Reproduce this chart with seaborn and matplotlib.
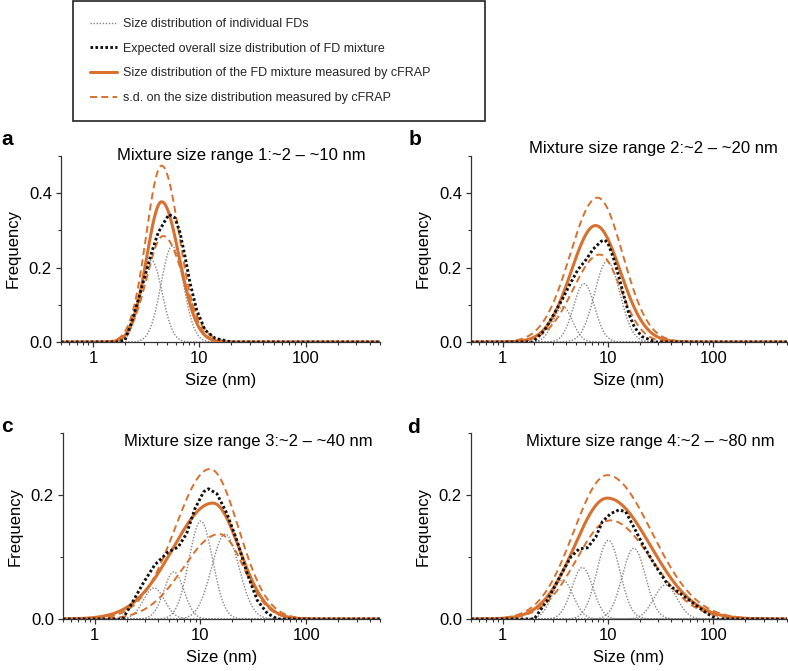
import numpy as np
import pandas as pd
import matplotlib
matplotlib.use("Agg")
import matplotlib.pyplot as plt
import seaborn as sns
from matplotlib import font_manager
from matplotlib.ticker import FixedLocator, LogLocator, MultipleLocator, NullFormatter, FuncFormatter

# ---------------- data ----------------
panel_letters = ["a", "b", "c", "d"]
panel_titles = ["Mixture size range 1:~2 \u2013 ~10 nm",
                "Mixture size range 2:~2 \u2013 ~20 nm",
                "Mixture size range 3:~2 \u2013 ~40 nm",
                "Mixture size range 4:~2 \u2013 ~80 nm"]
panel_ymax = [0.5, 0.5, 0.3, 0.3]

legend_labels = ["Size distribution of individual FDs",
                 "Expected overall size distribution of FD mixture",
                 "Size distribution of the FD mixture measured by cFRAP",
                 "s.d. on the size distribution measured by cFRAP"]

# individual FD components: peak size (nm), peak frequency, log10 width
a_comp_center = [3.55, 5.56]
a_comp_height = [0.219, 0.258]
a_comp_width = [0.100, 0.105]
b_comp_center = [3.73, 5.92, 9.82]
b_comp_height = [0.095, 0.157, 0.217]
b_comp_width = [0.090, 0.100, 0.120]
c_comp_center = [3.63, 5.60, 10.07, 17.18]
c_comp_height = [0.050, 0.076, 0.158, 0.137]
c_comp_width = [0.100, 0.095, 0.112, 0.130]
d_comp_center = [3.70, 5.71, 10.07, 17.58, 35.08]
d_comp_height = [0.063, 0.083, 0.127, 0.114, 0.055]
d_comp_width = [0.100, 0.100, 0.110, 0.110, 0.110]

# expected overall distribution (size nm, frequency)
a_exp_size = [0.5, 1.66, 2.0, 2.29, 2.66, 3.07, 3.55, 4.10, 4.74, 5.18, 5.89, 6.58, 7.33, 8.17, 9.44, 11.3, 14.1, 20.0, 500]
a_exp_freq = [0, 0, 0.005, 0.05, 0.113, 0.176, 0.24, 0.294, 0.325, 0.343, 0.334, 0.294, 0.23, 0.159, 0.086, 0.032, 0.01, 0, 0]
b_exp_size = [0.5, 1.94, 2.50, 3.11, 3.73, 4.32, 5.19, 6.21, 7.19, 8.63, 9.33, 10.0, 11.2, 12.6, 14.1, 15.8, 17.8, 20.9, 28.2, 500]
b_exp_freq = [0, 0, 0.032, 0.078, 0.118, 0.154, 0.195, 0.222, 0.249, 0.271, 0.274, 0.265, 0.228, 0.178, 0.125, 0.075, 0.04, 0.015, 0, 0]
c_exp_size = [0.5, 1.84, 2.29, 2.85, 3.68, 4.93, 6.15, 7.40, 8.87, 10.7, 11.9, 14.3, 17.8, 22.2, 27.7, 34.5, 43.0, 53.6, 500]
c_exp_freq = [0, 0, 0.028, 0.057, 0.087, 0.108, 0.116, 0.138, 0.178, 0.205, 0.21, 0.202, 0.17, 0.126, 0.073, 0.03, 0.009, 0, 0]
d_exp_size = [0.5, 1.99, 2.67, 3.56, 4.43, 5.31, 6.37, 7.64, 8.83, 10.6, 12.7, 14.7, 17.6, 21.1, 27.2, 36.4, 48.6, 65.0, 86.9, 108, 500]
d_exp_freq = [0, 0, 0.031, 0.071, 0.1, 0.113, 0.115, 0.132, 0.157, 0.17, 0.176, 0.173, 0.148, 0.122, 0.09, 0.057, 0.041, 0.025, 0.009, 0, 0]

# measured by cFRAP and its s.d. band: [peak size nm, peak freq, left log-width, right log-width]
a_measured = [4.42, 0.377, 0.140, 0.165]
a_sd_upper = [4.42, 0.474, 0.145, 0.165]
a_sd_lower = [4.57, 0.285, 0.155, 0.190]
b_measured = [7.62, 0.313, 0.232, 0.235]
b_sd_upper = [7.94, 0.388, 0.260, 0.240]
b_sd_lower = [8.32, 0.235, 0.250, 0.200]
c_measured = [13.1, 0.187, 0.380, 0.250]
c_sd_upper = [12.3, 0.242, 0.330, 0.270]
c_sd_lower = [15.1, 0.137, 0.340, 0.230]
d_measured = [9.84, 0.195, 0.310, 0.410]
d_sd_upper = [9.84, 0.232, 0.320, 0.420]
d_sd_lower = [10.5, 0.159, 0.320, 0.390]

# ---------------- style ----------------
sns.set_theme(style="ticks")
names = {f.name for f in font_manager.fontManager.ttflist}
base = "Liberation Sans" if "Liberation Sans" in names else "DejaVu Sans"
plt.rcParams['font.family'] = [base, 'DejaVu Sans']

ORANGE = "#D8702E"
GRAY = "#858585"
BLACK = "#111111"
AXC = "#333333"

panels = [
    dict(comp=(a_comp_center, a_comp_height, a_comp_width), exp=(a_exp_size, a_exp_freq),
         meas=a_measured, up=a_sd_upper, lo=a_sd_lower),
    dict(comp=(b_comp_center, b_comp_height, b_comp_width), exp=(b_exp_size, b_exp_freq),
         meas=b_measured, up=b_sd_upper, lo=b_sd_lower),
    dict(comp=(c_comp_center, c_comp_height, c_comp_width), exp=(c_exp_size, c_exp_freq),
         meas=c_measured, up=c_sd_upper, lo=c_sd_lower),
    dict(comp=(d_comp_center, d_comp_height, d_comp_width), exp=(d_exp_size, d_exp_freq),
         meas=d_measured, up=d_sd_upper, lo=d_sd_lower),
]

W, H = 788, 671
# axes boxes in pixels: left, top, right, bottom
boxes = [(61, 156, 380, 342), (471, 156, 787, 342), (63, 433, 380, 619), (471, 433, 787, 619)]
title_pos = [(0.566, 0.978), (0.577, 1.016), (0.585, 0.932), (0.567, 0.932)]
letter_pos = [(1, 145), (409, 145), (1, 432), (407, 433)]

grid = np.logspace(np.log10(0.5), np.log10(500), 800)


def bell(x, center, height, sl, sr):
    lx = np.log10(x)
    lc = np.log10(center)
    s = np.where(lx < lc, sl, sr)
    return height * np.exp(-0.5 * ((lx - lc) / s) ** 2)


fig = plt.figure(figsize=(W / 100, H / 100), dpi=100)
handles = None
for i, p in enumerate(panels):
    l, t, r, b = boxes[i]
    ax = fig.add_axes([l / W, 1 - b / H, (r - l) / W, (b - t) / H])
    ax.set_xscale("log")

    centers, heights, widths = p["comp"]
    for k, (c, h, w) in enumerate(zip(centers, heights, widths)):
        sns.lineplot(x=grid, y=bell(grid, c, h, w, w), ax=ax, color=GRAY, lw=1.0,
                     linestyle=(0, (1, 1.2)), zorder=2,
                     label=legend_labels[0] if k == 0 else None)
    m = p["meas"]
    sns.lineplot(x=grid, y=bell(grid, *m), ax=ax, color=ORANGE, lw=2.2, zorder=3,
                 label=legend_labels[2])
    for k, sd in enumerate([p["up"], p["lo"]]):
        sns.lineplot(x=grid, y=bell(grid, *sd), ax=ax, color=ORANGE, lw=1.4,
                     linestyle=(0, (3.6, 2.2)), zorder=4,
                     label=legend_labels[3] if k == 0 else None)
    es, ef = p["exp"]
    sns.lineplot(x=es, y=ef, ax=ax, color=BLACK, lw=2.1, linestyle=(0, (0.9, 0.8)),
                 zorder=5, sort=False, estimator=None, label=legend_labels[1])

    if i == 0:
        hs, ls = ax.get_legend_handles_labels()
        order = [ls.index(x) for x in legend_labels]
        handles = [hs[j] for j in order]
    if ax.get_legend() is not None:
        ax.get_legend().remove()

    ax.set_xlim(0.5, 500)
    ax.set_ylim(0, panel_ymax[i])
    ax.xaxis.set_major_locator(FixedLocator([1, 10, 100]))
    ax.xaxis.set_major_formatter(FuncFormatter(lambda v, _: f"{v:g}"))
    ax.xaxis.set_minor_locator(LogLocator(base=10, subs=np.arange(2, 10), numticks=20))
    ax.xaxis.set_minor_formatter(NullFormatter())
    ax.yaxis.set_major_locator(MultipleLocator(0.2))
    ax.yaxis.set_major_formatter(FuncFormatter(lambda v, _: f"{v:.1f}"))
    ax.yaxis.set_minor_locator(MultipleLocator(0.1))
    ax.tick_params(which="major", direction="out", length=3.5, width=0.9, color=AXC,
                   labelsize=12, pad=3, labelcolor="black")
    ax.tick_params(which="minor", direction="out", length=2.0, width=0.8, color=AXC)
    sns.despine(ax=ax)
    for sp in ["left", "bottom"]:
        ax.spines[sp].set_color(AXC)
        ax.spines[sp].set_linewidth(0.9)
    ax.set_xlabel("Size (nm)", fontsize=12, labelpad=5, color="black")
    ax.set_ylabel("Frequency", fontsize=12, labelpad=6, color="black")
    ax.set_facecolor("white")
    ax.grid(False)

    tx, ty = title_pos[i]
    ax.text(tx, ty, panel_titles[i], transform=ax.transAxes, ha="center", va="baseline",
            fontsize=12, color="black")
    lx, ly = letter_pos[i]
    fig.text(lx / W, 1 - ly / H, panel_letters[i], fontsize=15, fontweight="bold",
             ha="left", va="baseline", color="black")

leg = fig.legend(handles, legend_labels, loc="upper left",
                 bbox_to_anchor=(73 / W, 0.0, 412 / W, 1 - 1 / H), mode="expand",
                 borderaxespad=0, frameon=True, fancybox=False, framealpha=1,
                 edgecolor="#222222", prop={"family": [base], "size": 9},
                 labelspacing=1.02, handlelength=2.2, handletextpad=0.45, borderpad=1.35)
leg.get_frame().set_linewidth(1.2)

fig.savefig("out.png", dpi=100, facecolor="white")
